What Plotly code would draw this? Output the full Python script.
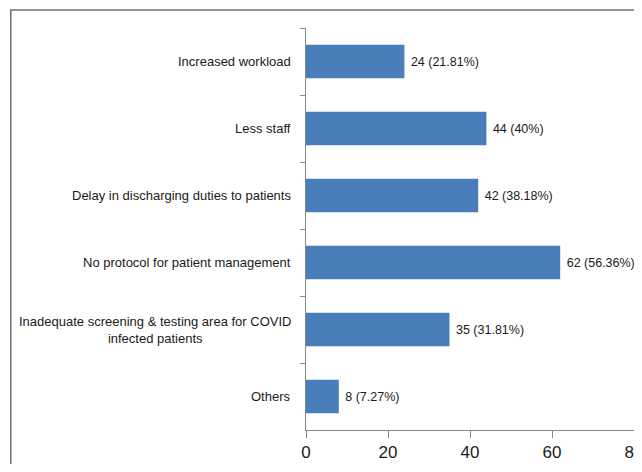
import plotly.graph_objects as go

categories = [
    "Increased workload",
    "Less staff",
    "Delay in discharging duties to patients",
    "No protocol for patient management",
    "Inadequate screening & testing area for COVID<br>infected patients",
    "Others",
]
counts = [24, 44, 42, 62, 35, 8]
percents = ["21.81%", "40%", "38.18%", "56.36%", "31.81%", "7.27%"]
x_ticks = [0, 20, 40, 60, 80]

FONT = "Liberation Sans, Arial, sans-serif"
labels = [f"\u00a0{c} ({p})" for c, p in zip(counts, percents)]

fig = go.Figure(go.Bar(
    y=categories, x=counts, orientation="h",
    marker=dict(color="#4a7ebb", line=dict(color="#4a7ebb", width=0)),
    text=labels, textposition="outside", cliponaxis=False,
    textfont=dict(family=FONT, size=12.5, color="#1a1a1a"),
))

for c in categories:
    fig.add_annotation(x=0, y=c, xref="paper", yref="y", text=c,
                       xanchor="right", yanchor="middle", align="center",
                       xshift=-13, showarrow=False,
                       font=dict(family=FONT, size=13, color="#1a1a1a"))

fig.add_shape(type="rect", xref="paper", yref="paper",
              x0=-0.9, x1=1.2, y0=-0.3, y1=1.045,
              line=dict(color="#6e6e6e", width=1.5), fillcolor="rgba(0,0,0,0)")

fig.update_layout(
    width=626, height=456,
    margin=dict(l=298, r=0, t=20, b=34, autoexpand=False),
    paper_bgcolor="white", plot_bgcolor="white",
    showlegend=False, bargap=0.5,
    font=dict(family=FONT, size=13, color="#1a1a1a"),
)
fig.update_xaxes(range=[0, 80], tickvals=x_ticks, showgrid=False, zeroline=False,
                 showline=True, linecolor="#888", linewidth=1,
                 ticks="outside", ticklen=7, tickcolor="#888",
                 ticklabeloverflow="allow", automargin=False,
                 tickfont=dict(family=FONT, size=17, color="#1a1a1a"))
fig.update_yaxes(autorange="reversed", showticklabels=False, showgrid=False,
                 showline=True, linecolor="#888", linewidth=1, automargin=False,
                 ticks="outside", ticklen=5, tickcolor="#888", tickson="boundaries")

fig.write_html("out.html")
